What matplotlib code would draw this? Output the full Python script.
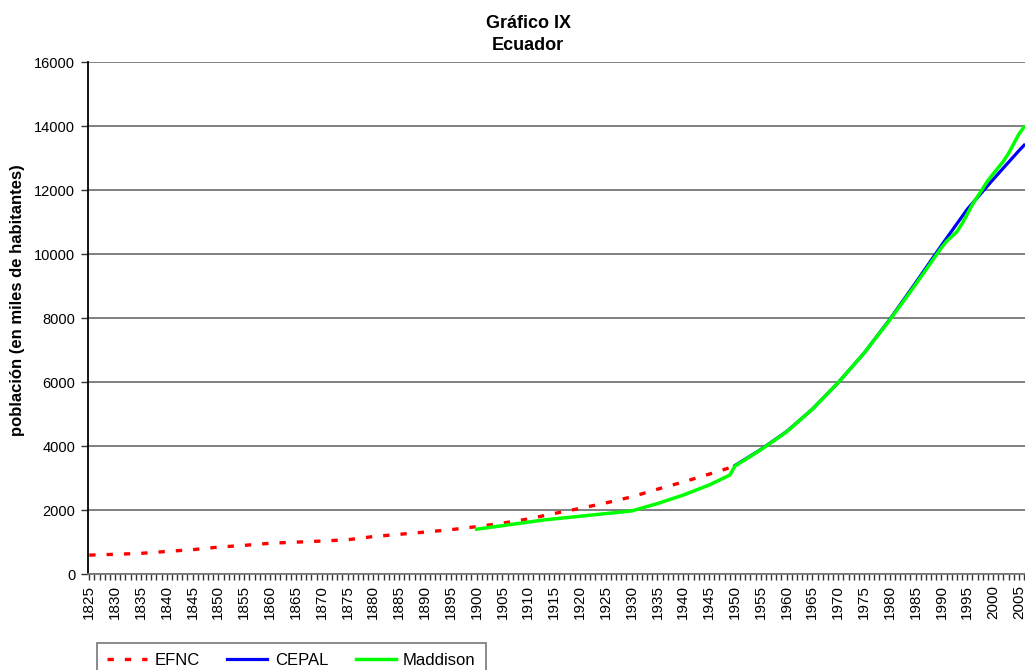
import numpy as np
import matplotlib
matplotlib.use("Agg")
import matplotlib.pyplot as plt
from matplotlib.ticker import MultipleLocator

plt.rcParams['font.family'] = ['Liberation Sans', 'DejaVu Sans']

# ----- data (miles de habitantes) -----
efnc_years = [1825, 1830, 1835, 1840, 1845, 1850, 1855, 1860, 1865, 1870, 1875,
              1880, 1885, 1890, 1895, 1900, 1905, 1910, 1915, 1920, 1925, 1930,
              1935, 1940, 1945, 1950]
efnc_vals = [590, 615, 645, 705, 760, 840, 895, 960, 995, 1030, 1070,
             1170, 1240, 1310, 1385, 1480, 1590, 1720, 1890, 2050, 2220, 2410,
             2650, 2875, 3120, 3370]

cepal_years = [1950, 1955, 1960, 1965, 1970, 1975, 1980, 1985, 1990, 1995,
               2000, 2005, 2006]
cepal_vals = [3387, 3890, 4450, 5150, 5980, 6900, 7960, 9100, 10270, 11400,
              12330, 13230, 13400]

madd_years = [1900, 1913, 1930, 1935, 1940, 1945, 1949, 1950, 1955, 1960,
              1965, 1970, 1975, 1980, 1985, 1990, 1991, 1992, 1993, 1994,
              1995, 1996, 1997, 1998, 1999, 2000, 2001, 2002, 2003, 2004,
              2005, 2006]
madd_vals = [1400, 1689, 1970, 2200, 2466, 2780, 3090, 3370, 3880, 4440,
             5150, 5980, 6900, 7940, 9050, 10200, 10400, 10550, 10700, 10950,
             11250, 11550, 11800, 12050, 12300, 12500, 12700, 12900, 13150,
             13450, 13750, 13970]

fig = plt.figure(figsize=(10.25, 6.7), dpi=100)
ax = fig.add_axes([87.7 / 1025, 96 / 670, 939 / 1025, 512 / 670])

ax.plot(efnc_years, efnc_vals, color='#ff0000', lw=2.4,
        linestyle=(0, (1.9, 3.3)), label='EFNC')
ax.plot(cepal_years, cepal_vals, color='#0000ff', lw=2.3, label='CEPAL')
ax.plot(madd_years, madd_vals, color='#00ff00', lw=2.5, label='Maddison')

ax.set_xlim(1824.7, 2006.5)
ax.set_ylim(0, 16000)
ax.set_yticks(np.arange(0, 16001, 2000))
ax.set_xticks(np.arange(1825, 2006, 5))
ax.xaxis.set_minor_locator(MultipleLocator(1))
ax.tick_params(axis='x', which='both', direction='out', length=4, width=1,
               color='#333333', labelrotation=90, labelsize=11, pad=4)
ax.tick_params(axis='y', direction='out', length=5, width=1, color='#333333',
               labelsize=10.5, pad=4)

ax.grid(axis='y', color='#808080', lw=1.4)
ax.set_axisbelow(True)
for s in ['top', 'right']:
    ax.spines[s].set_visible(False)
ax.spines['left'].set_color('#000000')
ax.spines['left'].set_linewidth(1.3)
ax.spines['bottom'].set_color('#777777')
ax.spines['bottom'].set_linewidth(1.3)

ax.set_ylabel('población (en miles de habitantes)', fontsize=12,
              fontweight='bold')
ax.yaxis.set_label_coords((25 - 87.7) / 939, (574 - 300) / 512)

fig.text(528 / 1025, 1 - 23 / 670, 'Gráfico IX', ha='center', va='center',
         fontsize=13, fontweight='bold')
fig.text(528 / 1025, 1 - 46 / 670, 'Ecuador', ha='center', va='center',
         fontsize=13, fontweight='bold')

leg = fig.legend(loc='upper left', bbox_to_anchor=(97 / 1025, 1 - 643 / 670),
                 ncol=3, fontsize=12, frameon=True, fancybox=False,
                 handlelength=2.4, handletextpad=0.45, columnspacing=1.65,
                 borderpad=0.6, borderaxespad=0)
leg.get_frame().set_edgecolor('#555555')
leg.get_frame().set_linewidth(1.2)

fig.savefig('out.png', dpi=100)
